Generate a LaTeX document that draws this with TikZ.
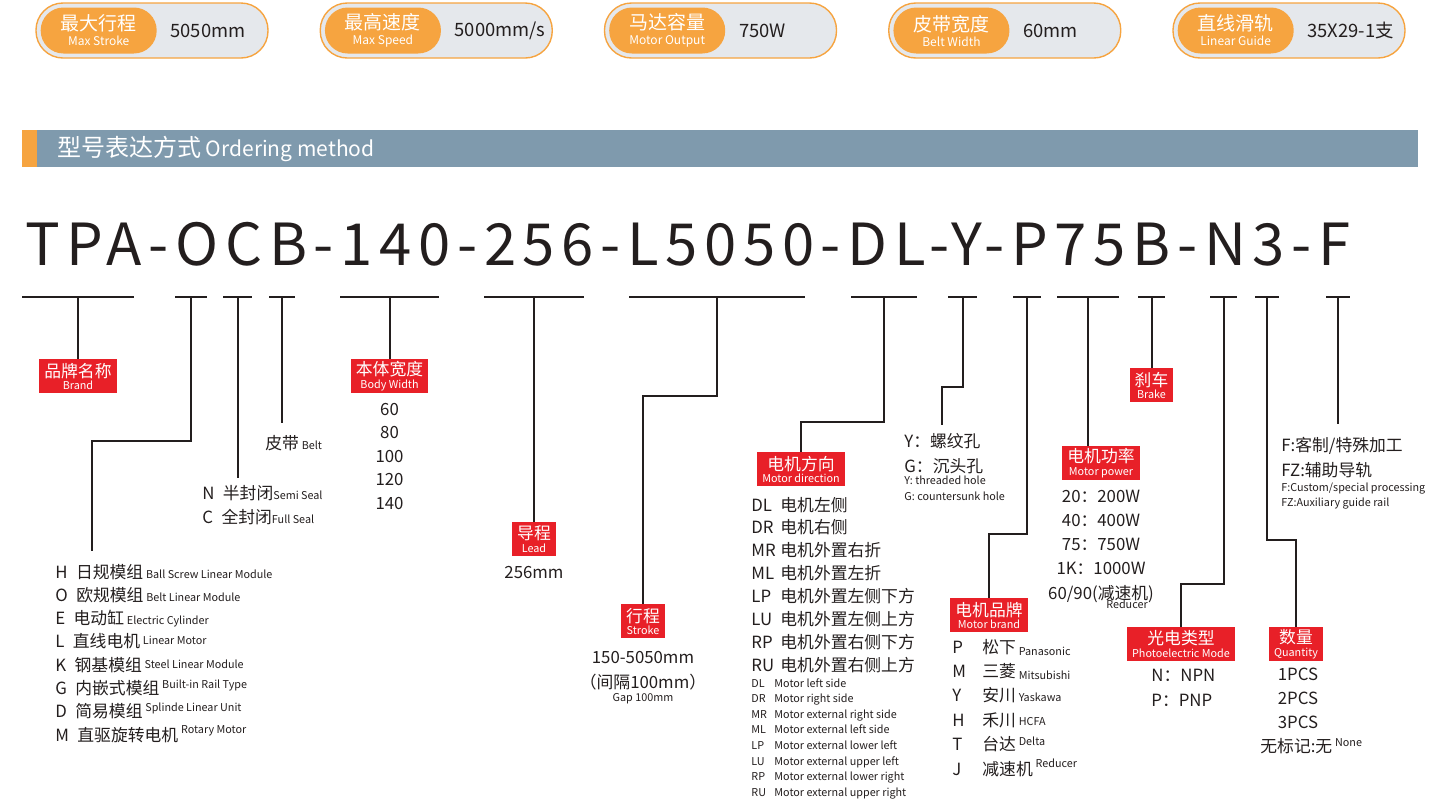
\documentclass[tikz,border=0pt]{standalone}
\usepackage{fontspec}
\setmainfont{Noto Sans CJK SC}
\newfontfamily\codefont[LetterSpace=11.5]{Noto Sans CJK SC}
\usepackage{tikz}
\usetikzlibrary{
  positioning
}
\definecolor{ordOrange}{RGB}{246,164,64}
\definecolor{ordPillBg}{RGB}{229,232,236}
\definecolor{ordBanner}{RGB}{127,154,173}
\definecolor{ordRed}{RGB}{232,32,40}
\definecolor{ordInk}{RGB}{35,30,30}
\newcommand{\ordsmall}[1]{{\fontsize{5.4}{6}\selectfont #1}}
\newcommand{\ordtag}[2]{#1\\[-2pt]{\fontsize{5.4}{6}\selectfont #2}}
\tikzset{
  ordPill/.style={
    draw=ordOrange,
    fill=ordPillBg,
    line width=0.7pt,
    rounded corners=13.5pt,
    minimum width=116pt,
    minimum height=27.5pt
  },
  ordPillKey/.style={
    fill=ordOrange,
    text=white,
    rounded corners=11.4pt,
    minimum width=58pt,
    minimum height=23pt,
    inner sep=0pt,
    align=center,
    font=\fontsize{9.5}{9.5}\selectfont
  },
  ordPillVal/.style={
    text=ordInk,
    inner sep=0pt,
    font=\fontsize{9.2}{11}\selectfont
  },
  ordTag/.style={
    fill=ordRed,
    text=white,
    anchor=north,
    inner xsep=2.5pt,
    inner ysep=1pt,
    minimum height=17pt,
    align=center,
    font=\fontsize{8.4}{8.4}\selectfont
  },
  ordRow/.style={
    anchor=base west,
    inner sep=0pt,
    text=ordInk,
    yshift=-3pt,
    font=\fontsize{8.4}{10}\selectfont
  },
  ordRowC/.style={
    ordRow,
    anchor=base
  },
  ordNote/.style={
    anchor=base west,
    inner sep=0pt,
    text=ordInk,
    yshift=-2pt,
    font=\fontsize{5.4}{6}\selectfont
  },
  ordUnder/.style={
    line width=1pt,
    draw=ordInk
  },
  ordLink/.style={
    line width=1pt,
    draw=ordInk
  }
}

\begin{document}
\begin{tikzpicture}[x=0.5pt, y=-0.5pt]
  \useasboundingbox (0,0) rectangle (1440,804);

  \foreach \cn/\en/\val [count=\i from 0] in {
      最大行程/Max Stroke/5050mm,
      最高速度/Max Speed/5000mm\slash s,
      马达容量/Motor Output/750W,
      皮带宽度/Belt Width/60mm,
      直线滑轨/Linear Guide/35X29-1支}{
    \node[ordPill] (pill\i) at ({152+284.25*\i},30.5) {};
    \node[ordPillKey, anchor=west] (key\i) at ([xshift=2.5pt]pill\i.west)
      {\cn\\[-2pt]{\fontsize{6}{6}\selectfont\en}};
    \node[ordPillVal, right=6.5pt of key\i] (val\i) {\val};
  }

  \fill[ordBanner] (22,130) rectangle (1418,167);
  \fill[ordOrange] (22,130) rectangle (37,167);
  \node[anchor=west, inner sep=0pt, text=white] (banner) at (57,149)
    {{\fontsize{12}{12}\selectfont 型号表达方式} {\fontsize{10.5}{12}\selectfont Ordering method}};

  \node[anchor=base west, inner sep=0pt, text=ordInk,
    font=\codefont\fontsize{29}{29}\selectfont] (code) at (25,265)
    {TPA-OCB-140-256-L5050-DL-Y-P75B-N3-F};

  \foreach \a/\b/\n in {22/134/TPA, 175/207/O, 223/252/C, 269/295/B,
      340/439/Wid, 484/584/Lead, 629/805/Strk, 851/917/DL, 948/977/Y,
      1013/1041/P, 1057/1119/Pow, 1138/1165/Brk, 1210/1237/N,
      1255/1279/Q, 1326/1350/F}{
    \coordinate (t\n) at ({(\a+\b)/2},297);
    \draw[ordUnder] (\a,297) -- (\b,297);
  }

  \node[ordTag] (tagBrand) at (78,359) {\ordtag{品牌名称}{Brand}};
  \node[ordTag] (tagWidth) at (389.5,359) {\ordtag{本体宽度}{Body Width}};
  \node[ordTag] (tagLead) at (534,522) {\ordtag{导程}{Lead}};
  \node[ordTag] (tagStroke) at (643,604) {\ordtag{行程}{Stroke}};
  \node[ordTag] (tagDir) at (801,452) {\ordtag{电机方向}{Motor direction}};
  \node[ordTag] (tagBrake) at (1151.5,368) {\ordtag{刹车}{Brake}};
  \node[ordTag] (tagPower) at (1101,446) {\ordtag{电机功率}{Motor power}};
  \node[ordTag] (tagMotor) at (989,598) {\ordtag{电机品牌}{Motor brand}};
  \node[ordTag] (tagPhoto) at (1181,627) {\ordtag{光电类型}{Photoelectric Mode}};
  \node[ordTag] (tagQty) at (1296,627) {\ordtag{数量}{Quantity}};

  \coordinate (kO) at (92,441);
  \coordinate (eO) at (92,551);
  \coordinate (eC) at (237.5,478);
  \coordinate (eB) at (282,423);
  \coordinate (kStrk) at (643,396);
  \coordinate (kDL) at (801,422);
  \coordinate (kY) at (942,387);
  \coordinate (eY) at (942,425);
  \coordinate (kP) at (989,534);
  \coordinate (kN) at (1181,584);
  \coordinate (kQ) at (1296,540);
  \coordinate (eF) at (1338,424);

  \draw[ordLink] (tTPA) -- (tagBrand);
  \draw[ordLink] (tO) |- (kO) -- (eO);
  \draw[ordLink] (tC) -- (eC);
  \draw[ordLink] (tB) -- (eB);
  \draw[ordLink] (tWid) -- (tagWidth);
  \draw[ordLink] (tLead) -- (tagLead);
  \draw[ordLink] (tStrk) |- (kStrk) -- (tagStroke);
  \draw[ordLink] (tDL) |- (kDL) -- (tagDir);
  \draw[ordLink] (tY) |- (kY) -- (eY);
  \draw[ordLink] (tP) |- (kP) -- (tagMotor);
  \draw[ordLink] (tPow) -- (tPow |- tagPower.north);
  \draw[ordLink] (tBrk) -- (tagBrake);
  \draw[ordLink] (tN) |- (kN) -- (tagPhoto);
  \draw[ordLink] (tQ) |- (kQ) -- (tagQty);
  \draw[ordLink] (tF) -- (eF);

  \node[ordRow] (beltTxt) at (265,443) {皮带\,\ordsmall{Belt}};
  \node[ordRow] (sealN) at (202,493) {N\enspace 半封闭\ordsmall{Semi Seal}};
  \node[ordRow] (sealC) at (202,517) {C\enspace 全封闭\ordsmall{Full Seal}};

  \foreach \c/\t/\e/\r [count=\i] in {
      H/日规模组/Ball Screw Linear Module/0,
      O/欧规模组/Belt Linear Module/0,
      E/电动缸/Electric Cylinder/0,
      L/直线电机/Linear Motor/1.5,
      K/钢基模组/Steel Linear Module/1.5,
      G/内嵌式模组/Built-in Rail Type/3,
      D/简易模组/Splinde Linear Unit/3,
      M/直驱旋转电机/Rotary Motor/4}{
    \node[ordRow] (type\c) at (55,{572+23.3*(\i-1)})
      {\c\enspace\t\,\raisebox{\r pt}{\ordsmall{\e}}};
  }

  \foreach \w [count=\i] in {60,80,100,120,140}
    \node[ordRowC] (wid\w) at (389.5,{409+23.5*(\i-1)}) {\w};

  \node[ordRowC] (leadVal) at (534,572) {256mm};

  \node[ordRowC] (strkVal) at (643,657) {150-5050mm};
  \node[ordRowC] (strkGap) at (643,682) {（间隔100mm）};
  \node[ordNote, anchor=base] (strkGapEn) at (643,697) {Gap 100mm};

  \foreach \c/\t [count=\i] in {DL/电机左侧, DR/电机右侧, MR/电机外置右折,
      ML/电机外置左折, LP/电机外置左侧下方, LU/电机外置左侧上方,
      RP/电机外置右侧下方, RU/电机外置右侧上方}{
    \node[ordRow] (dir\c) at (751,{505+22.9*(\i-1)}) {\c};
    \node[ordRow] (dirTxt\c) at (780,{505+22.9*(\i-1)}) {\t};
  }
  \foreach \c/\e [count=\i] in {DL/Motor left side, DR/Motor right side,
      MR/Motor external right side, ML/Motor external left side,
      LP/Motor external lower left, LU/Motor external upper left,
      RP/Motor external lower right, RU/Motor external upper right}{
    \node[ordNote] (dirEnC\c) at (751,{683+15.6*(\i-1)}) {\c};
    \node[ordNote] (dirEn\c) at (774,{683+15.6*(\i-1)}) {\e};
  }

  \node[ordRow] (holeY) at (904,441) {Y：螺纹孔};
  \node[ordRow] (holeG) at (904,466) {G：沉头孔};
  \node[ordNote] (holeYEn) at (904,480) {Y: threaded hole};
  \node[ordNote] (holeGEn) at (904,496) {G: countersunk hole};

  \foreach \p [count=\i] in {20：200W, 40：400W, 75：750W, 1K：1000W, {60/90(减速机)}}
    \node[ordRowC] (pow\i) at (1101,{496+24.3*(\i-1)}) {\p};
  \node[ordNote, anchor=base] (powRed) at (1127,604) {Reducer};

  \foreach \c/\t/\e/\r [count=\i] in {P/松下/Panasonic/-1, M/三菱/Mitsubishi/-1,
      Y/安川/Yaskawa/0, H/禾川/HCFA/0.5, T/台达/Delta/2.5, J/减速机/Reducer/4}{
    \node[ordRow] (mot\c) at (952,{647+24.4*(\i-1)}) {\c};
    \node[ordRow] (motTxt\c) at (982,{647+24.4*(\i-1)})
      {\t\,\raisebox{\r pt}{\ordsmall{\e}}};
  }

  \node[ordRow] (photoN) at (1151,675) {N：NPN};
  \node[ordRow] (photoP) at (1151,700) {P：PNP};

  \foreach \q [count=\i] in {1PCS,2PCS,3PCS}
    \node[ordRowC] (qty\i) at (1298,{674+24*(\i-1)}) {\q};
  \node[ordRow] (qtyNone) at (1260,746) {无标记:无\,\raisebox{3pt}{\ordsmall{None}}};

  \node[ordRow] (finF) at (1281,445) {F:客制/特殊加工};
  \node[ordRow] (finFZ) at (1281,470) {FZ:辅助导轨};
  \node[ordNote] (finFEn) at (1281,487) {F:Custom/special processing};
  \node[ordNote] (finFZEn) at (1281,502) {FZ:Auxiliary guide rail};
\end{tikzpicture}
\end{document}
